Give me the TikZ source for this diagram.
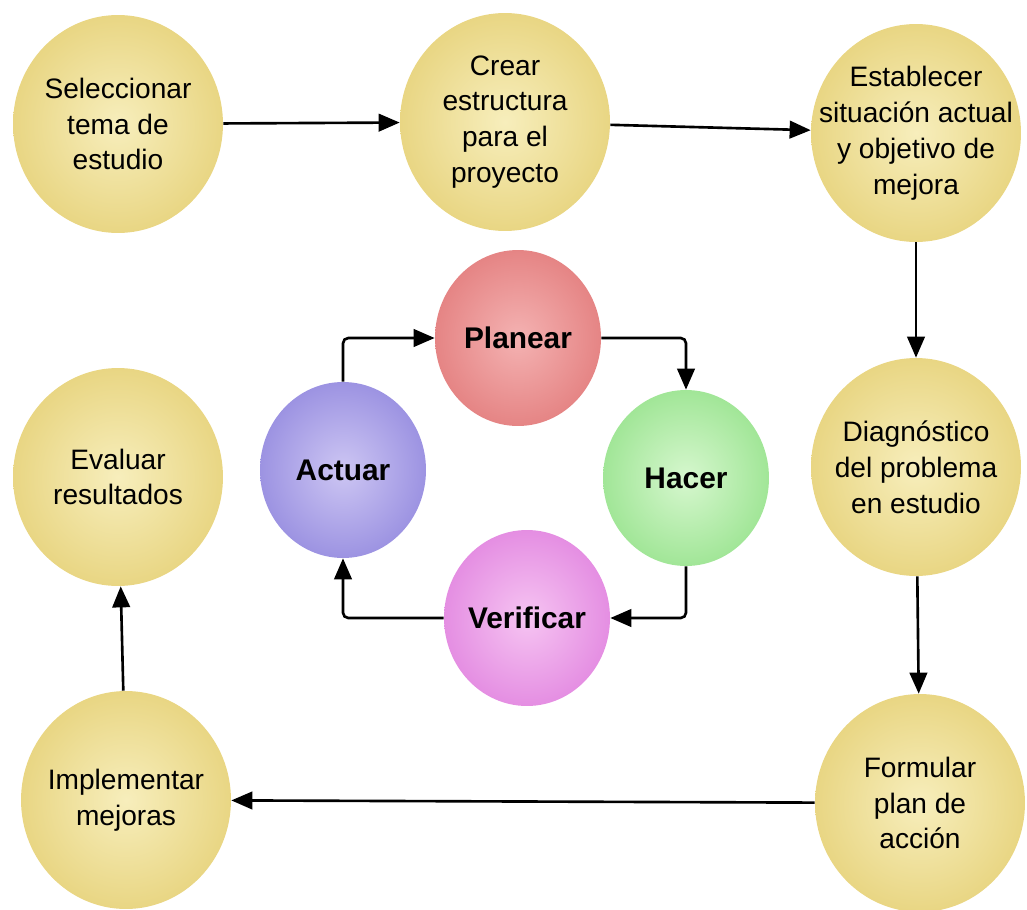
\documentclass[tikz,border=0pt]{standalone}
\usepackage{fontspec}
\setmainfont{Liberation Sans}
\usetikzlibrary{arrows.meta,shapes.geometric}
\pgfdeclareradialshading[bolain,bolaout]{bola}{\pgfpoint{0bp}{0bp}}{color(0bp)=(bolain); color(42bp)=(bolaout!78!bolain); color(50bp)=(bolaout)}
\definecolor{amain}{RGB}{247,238,188}
\definecolor{amaout}{RGB}{216,186,66}
\tikzset{
  ball/.style 2 args={ellipse,inner sep=-20pt,align=center,
    /utils/exec={\colorlet{bolain}{#1}\colorlet{bolaout}{#2}},shading=bola},
  paso/.style={ball={amain}{amaout},minimum width=4.2cm,minimum height=4.36cm,
    font=\fontsize{16}{20.4}\selectfont},
  ciclo/.style 2 args={ball={#1}{#2},minimum width=3.32cm,minimum height=3.52cm,
    font=\fontsize{17}{20}\selectfont\bfseries},
  flecha/.style={line width=1.5pt,-{Triangle[length=12pt,width=10pt]}}
}
\begin{document}
\begin{tikzpicture}[x=0.02cm,y=-0.02cm]
  \useasboundingbox (0,0) rectangle (1027,909);
  \node[paso] (sel) at (118,124) {Seleccionar\\tema de\\estudio};
  \node[paso] (crear) at (505,122) {Crear\\estructura\\para el\\proyecto};
  \node[paso] (est) at (916,133) {Establecer\\situación actual\\y objetivo de\\mejora};
  \node[paso] (diag) at (916,467) {Diagnóstico\\del problema\\en estudio};
  \node[paso] (form) at (920,803) {Formular\\plan de\\acción};
  \node[paso] (impl) at (126,800) {Implementar\\mejoras};
  \node[paso] (eval) at (118,477) {Evaluar\\resultados};
  \node[ciclo={rgb,255:red,244;green,178;blue,178}{rgb,255:red,212;green,80;blue,80}] (plan) at (518,338) {Planear};
  \node[ciclo={rgb,255:red,214;green,247;blue,206}{rgb,255:red,100;green,210;blue,88}] (hacer) at (686,478) {Hacer};
  \node[ciclo={rgb,255:red,246;green,196;blue,242}{rgb,255:red,208;green,80;blue,208}] (ver) at (527,618) {Verificar};
  \node[ciclo={rgb,255:red,205;green,198;blue,243}{rgb,255:red,100;green,88;blue,206}] (act) at (343,470) {Actuar};
  \draw[flecha] (sel) -- (crear);
  \draw[flecha] (crear) -- (est);
  \draw[flecha] (est) -- (diag);
  \draw[flecha] (diag) -- (form);
  \draw[flecha] (form) -- (impl);
  \draw[flecha] (impl) -- (eval);
  \draw[flecha,rounded corners=3pt] (act.north) |- (plan.west);
  \draw[flecha,rounded corners=3pt] (plan.east) -| (hacer.north);
  \draw[flecha,rounded corners=3pt] (hacer.south) |- (ver.east);
  \draw[flecha,rounded corners=3pt] (ver.west) -| (act.south);
\end{tikzpicture}
\end{document}
